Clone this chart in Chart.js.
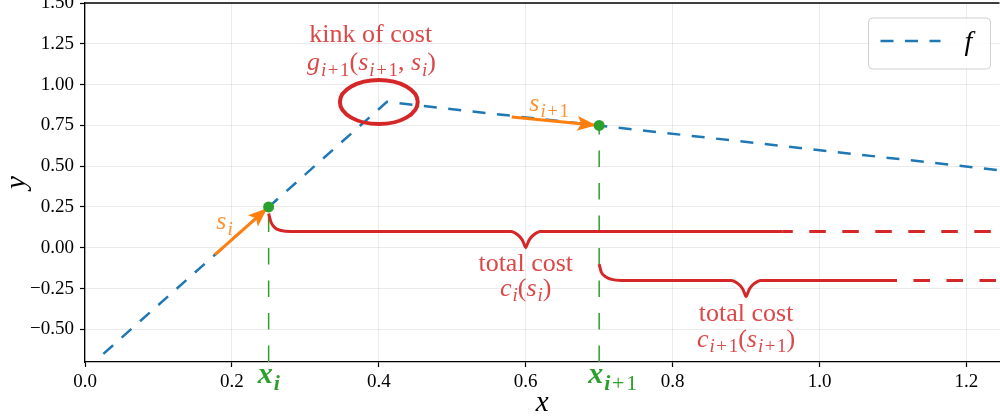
<!DOCTYPE html>
<html>
<head>
<meta charset="utf-8">
<script src="https://cdn.jsdelivr.net/npm/chart.js@4.4.1/dist/chart.umd.min.js"></script>
<style>
  html, body { margin: 0; padding: 0; overflow: hidden; background: #fff; }
  #wrap { position: absolute; left: 0; top: -17px; width: 1005px; height: 436px; }
</style>
</head>
<body>
<div id="wrap"><canvas id="chart"></canvas></div>
<script>
// f : piecewise linear, kink near x = 0.41
var fX = [0.025, 0.411, 1.245];
var fY = [-0.65, 0.894, 0.475];

// the iterates x_i and x_{i+1} on f
var ptX = [0.25, 0.7];
var ptY = [0.25, 0.75];

// step arrows s_i and s_{i+1}
var arrowSiX = [0.177, 0.248];
var arrowSiY = [-0.042, 0.242];
var arrowSi1X = [0.581, 0.696];
var arrowSi1Y = [0.802, 0.751];

// "total cost" braces
var brace1X = [0.25, 0.253, 0.258, 0.267, 0.28, 0.58, 0.589, 0.595, 0.598, 0.6, 0.602, 0.605, 0.611, 0.62, 0.95];
var brace1Y = [0.21, 0.16, 0.125, 0.106, 0.1, 0.1, 0.08, 0.05, 0.02, 0.0, 0.02, 0.05, 0.08, 0.1, 0.1];
var brace2X = [0.7, 0.703, 0.708, 0.717, 0.73, 0.88, 0.889, 0.895, 0.898, 0.9, 0.902, 0.905, 0.911, 0.92, 1.1];
var brace2Y = [-0.1, -0.15, -0.175, -0.194, -0.2, -0.2, -0.22, -0.25, -0.28, -0.3, -0.28, -0.25, -0.22, -0.2, -0.2];
var tail1X = [0.95, 1.245];
var tail1Y = [0.1, 0.1];
var tail2X = [1.1, 1.245];
var tail2Y = [-0.2, -0.2];

// axes
var xTicks = [0.0, 0.2, 0.4, 0.6, 0.8, 1.0, 1.2];
var yTicks = [-0.5, -0.25, 0.0, 0.25, 0.5, 0.75, 1.0, 1.25, 1.5];
var xRange = [0, 1.245];
var yRange = [-0.7, 1.5];

var BLUE = '#1f77b4', ORANGE = '#ff7f0e', GREEN = '#2ca02c', RED = '#d62728';
var RED_TXT = 'rgba(214,39,40,0.85)', ORANGE_TXT = 'rgba(255,127,14,0.85)';
var SERIF = '"Liberation Serif", "DejaVu Serif", serif';

function pts(xs, ys) {
  return xs.map(function (x, i) { return { x: x, y: ys[i] }; });
}

// annotation texts, anchored in data coordinates
var notes = [
  { text: 'kink of cost', tex: false, x: 0.389, y: 1.261, color: RED_TXT },
  { text: 'g_{i+1}(s_{i+1}, s_i)', tex: true, x: 0.39, y: 1.09, color: RED_TXT },
  { text: 's_i', tex: true, x: 0.19, y: 0.116, color: ORANGE_TXT },
  { text: 's_{i+1}', tex: true, x: 0.632, y: 0.839, color: ORANGE_TXT },
  { text: 'total cost', tex: false, x: 0.6, y: -0.141, color: RED_TXT },
  { text: 'c_i(s_i)', tex: true, x: 0.6, y: -0.294, color: RED_TXT },
  { text: 'total cost', tex: false, x: 0.9, y: -0.447, color: RED_TXT },
  { text: 'c_{i+1}(s_{i+1})', tex: true, x: 0.9, y: -0.606, color: RED_TXT }
];
var pointLabels = ['x_i', 'x_{i+1}'];

// tiny tex-ish parser: letters italic, rest roman, _x / _{..} subscripts
function parseTex(s) {
  var runs = [];
  function push(ch, sub) {
    var it = /[a-zA-Z]/.test(ch);
    var last = runs[runs.length - 1];
    if (ch === '+') { runs.push({ t: ch, i: false, s: sub, pad: true }); return; }
    if (last && !last.pad && last.i === it && last.s === sub) last.t += ch;
    else runs.push({ t: ch, i: it, s: sub });
  }
  var i = 0;
  while (i < s.length) {
    if (s[i] === '_') {
      if (s[i + 1] === '{') {
        var j = s.indexOf('}', i);
        s.slice(i + 2, j).split('').forEach(function (c) { push(c, true); });
        i = j + 1;
      } else { push(s[i + 1], true); i += 2; }
    } else { push(s[i], false); i++; }
  }
  return runs;
}

function drawRuns(ctx, runs, x, y, size, color, bold, anchorFirst) {
  function font(r) {
    return (r.i ? 'italic ' : '') + (bold && r.i ? 'bold ' : '') + Math.round(r.s ? size * 0.74 : size) + 'px ' + SERIF;
  }
  var w = 0;
  runs.forEach(function (r) {
    ctx.font = font(r);
    r.lead = r.pad ? size * 0.06 : 0;
    r.w = ctx.measureText(r.t).width + (r.i && !r.s ? 1 : 0) + 2 * r.lead;
    w += r.w;
  });
  var cx = anchorFirst ? x - runs[0].w / 2 : x - w / 2;
  ctx.fillStyle = color;
  ctx.textAlign = 'left';
  ctx.textBaseline = 'alphabetic';
  runs.forEach(function (r) {
    ctx.font = font(r);
    ctx.fillText(r.t, cx + r.lead, y + (r.s ? size * 0.22 : 0));
    cx += r.w;
  });
}

function arrowHead(ctx, x0, y0, x1, y1, color) {
  var a = Math.atan2(y1 - y0, x1 - x0);
  ctx.save();
  ctx.translate(x1, y1);
  ctx.rotate(a);
  ctx.fillStyle = color;
  ctx.beginPath();
  ctx.moveTo(0, 0);
  ctx.lineTo(-19, -7.5);
  ctx.lineTo(-15, 0);
  ctx.lineTo(-19, 7.5);
  ctx.closePath();
  ctx.fill();
  ctx.restore();
}

var extras = {
  id: 'extras',
  afterDatasetDraw: function (chart, args) {
    var ds = chart.data.datasets[args.index];
    if (!ds.arrow) return;
    var xs = chart.scales.x, ys = chart.scales.y;
    var d = ds.data;
    arrowHead(chart.ctx,
      xs.getPixelForValue(d[0].x), ys.getPixelForValue(d[0].y),
      xs.getPixelForValue(d[1].x), ys.getPixelForValue(d[1].y), ORANGE);
  },
  afterDatasetsDraw: function (chart) {
    var ctx = chart.ctx, xs = chart.scales.x, ys = chart.scales.y;
    // circle around the kink
    var cx = xs.getPixelForValue(0.4), cy = ys.getPixelForValue(0.893);
    var rx = xs.getPixelForValue(0.453) - cx, ry = cy - ys.getPixelForValue(1.028);
    ctx.save();
    ctx.strokeStyle = RED;
    ctx.lineWidth = 4;
    ctx.beginPath();
    ctx.ellipse(cx, cy, rx, ry, 0, 0, Math.PI * 2);
    ctx.stroke();
    notes.forEach(function (n) {
      var px = xs.getPixelForValue(n.x), py = ys.getPixelForValue(n.y);
      if (n.tex) {
        drawRuns(ctx, parseTex(n.text), px, py, 26, n.color, false, false);
      } else {
        ctx.font = '26px ' + SERIF;
        ctx.fillStyle = n.color;
        ctx.textAlign = 'center';
        ctx.textBaseline = 'alphabetic';
        ctx.fillText(n.text, px, py);
      }
    });
    ctx.restore();
  },
  afterDraw: function (chart) {
    var ctx = chart.ctx, a = chart.chartArea, xs = chart.scales.x;
    ctx.save();
    // top spine
    ctx.strokeStyle = '#000';
    ctx.lineWidth = 1.3;
    ctx.beginPath();
    ctx.moveTo(a.left, a.top);
    ctx.lineTo(a.right, a.top);
    ctx.stroke();
    // x_i labels under the axis
    ptX.forEach(function (v, i) {
      drawRuns(ctx, parseTex(pointLabels[i]), xs.getPixelForValue(v) - 3, a.bottom + 21, 30, GREEN, true, true);
    });
    // legend
    var bw = 122, bh = 51, bx = a.right - 9 - bw, by = a.top + 15;
    ctx.fillStyle = 'rgba(255,255,255,0.85)';
    ctx.strokeStyle = '#d0d0d0';
    ctx.lineWidth = 1;
    ctx.beginPath();
    ctx.roundRect(bx, by, bw, bh, 4);
    ctx.fill();
    ctx.stroke();
    var f = chart.data.datasets[0];
    ctx.strokeStyle = f.borderColor;
    ctx.lineWidth = f.borderWidth;
    ctx.setLineDash(f.borderDash);
    ctx.beginPath();
    ctx.moveTo(bx + 12, by + 23);
    ctx.lineTo(bx + 72, by + 23);
    ctx.stroke();
    ctx.setLineDash([]);
    ctx.font = 'italic 28px ' + SERIF;
    ctx.fillStyle = '#000';
    ctx.textAlign = 'left';
    ctx.textBaseline = 'alphabetic';
    ctx.fillText(f.label, bx + 96, by + 32);
    ctx.restore();
  }
};

var lineBase = { showLine: true, pointRadius: 0, pointHoverRadius: 0, fill: false };

new Chart(document.getElementById('chart'), {
  type: 'scatter',
  data: {
    datasets: [
      Object.assign({}, lineBase, {
        label: 'f', data: pts(fX, fY), borderColor: BLUE, borderWidth: 2.5,
        borderDash: [13, 11.5], order: 3
      }),
      {
        label: 'points', data: pts(ptX, ptY), showLine: false, pointRadius: 5.5,
        backgroundColor: GREEN, borderWidth: 0, order: 0
      },
      Object.assign({}, lineBase, {
        label: 'x_i line', data: pts([ptX[0], ptX[0]], [yRange[0], ptY[0]]),
        borderColor: GREEN, borderWidth: 1.5, borderDash: [16.5, 16], order: 5
      }),
      Object.assign({}, lineBase, {
        label: 'x_i+1 line', data: pts([ptX[1], ptX[1]], [yRange[0], ptY[1]]),
        borderColor: GREEN, borderWidth: 1.5, borderDash: [16.5, 16], order: 5
      }),
      Object.assign({}, lineBase, {
        label: 's_i', data: pts(arrowSiX, arrowSiY), borderColor: ORANGE, borderWidth: 3,
        arrow: true, order: 1
      }),
      Object.assign({}, lineBase, {
        label: 's_i+1', data: pts(arrowSi1X, arrowSi1Y), borderColor: ORANGE, borderWidth: 3,
        arrow: true, order: 1
      }),
      Object.assign({}, lineBase, {
        label: 'cost i', data: pts(brace1X, brace1Y), borderColor: RED, borderWidth: 3,
        cubicInterpolationMode: 'monotone', order: 2
      }),
      Object.assign({}, lineBase, {
        label: 'cost i+1', data: pts(brace2X, brace2Y), borderColor: RED, borderWidth: 3,
        cubicInterpolationMode: 'monotone', order: 2
      }),
      Object.assign({}, lineBase, {
        label: 'cost i tail', data: pts(tail1X, tail1Y), borderColor: RED, borderWidth: 3,
        borderDash: [16.5, 16.5], borderDashOffset: 6.5, order: 2
      }),
      Object.assign({}, lineBase, {
        label: 'cost i+1 tail', data: pts(tail2X, tail2Y), borderColor: RED, borderWidth: 3,
        borderDash: [16.5, 16.5], borderDashOffset: 12.5, order: 2
      })
    ]
  },
  options: {
    responsive: true,
    maintainAspectRatio: false,
    animation: false,
    layout: { padding: { top: 20, right: 0, bottom: 0, left: 0 } },
    plugins: { legend: { display: false }, tooltip: { enabled: false } },
    scales: {
      x: {
        type: 'linear', min: xRange[0], max: xRange[1],
        afterBuildTicks: function (s) { s.ticks = xTicks.map(function (v) { return { value: v }; }); },
        afterFit: function (s) { s.height = 57; },
        ticks: {
          color: '#000', padding: 4, maxRotation: 0,
          font: { family: SERIF, size: 19 },
          callback: function (v) { return v.toFixed(1); }
        },
        grid: { color: 'rgba(0,0,0,0.08)', tickColor: '#000', tickLength: 5, tickWidth: 1.2 },
        border: { color: '#000', width: 1.3 },
        title: {
          display: true, text: 'x', color: '#000', padding: { top: 0, bottom: 3 },
          font: { family: SERIF, size: 29, style: 'italic', lineHeight: 0.85 }
        }
      },
      y: {
        type: 'linear', min: yRange[0], max: yRange[1],
        afterBuildTicks: function (s) { s.ticks = yTicks.map(function (v) { return { value: v }; }); },
        afterFit: function (s) { s.width = 85; },
        ticks: {
          color: '#000', padding: 6,
          font: { family: SERIF, size: 19 },
          callback: function (v) { return v.toFixed(2).replace('-', '\u2212'); }
        },
        grid: { color: 'rgba(0,0,0,0.08)', tickColor: '#000', tickLength: 5, tickWidth: 1.2 },
        border: { color: '#000', width: 1.3 },
        title: {
          display: true, text: 'y', color: '#000', padding: { top: 5, bottom: 0 },
          font: { family: SERIF, size: 29, style: 'italic', lineHeight: 0.85 }
        }
      }
    }
  },
  plugins: [extras]
});
</script>
</body>
</html>
